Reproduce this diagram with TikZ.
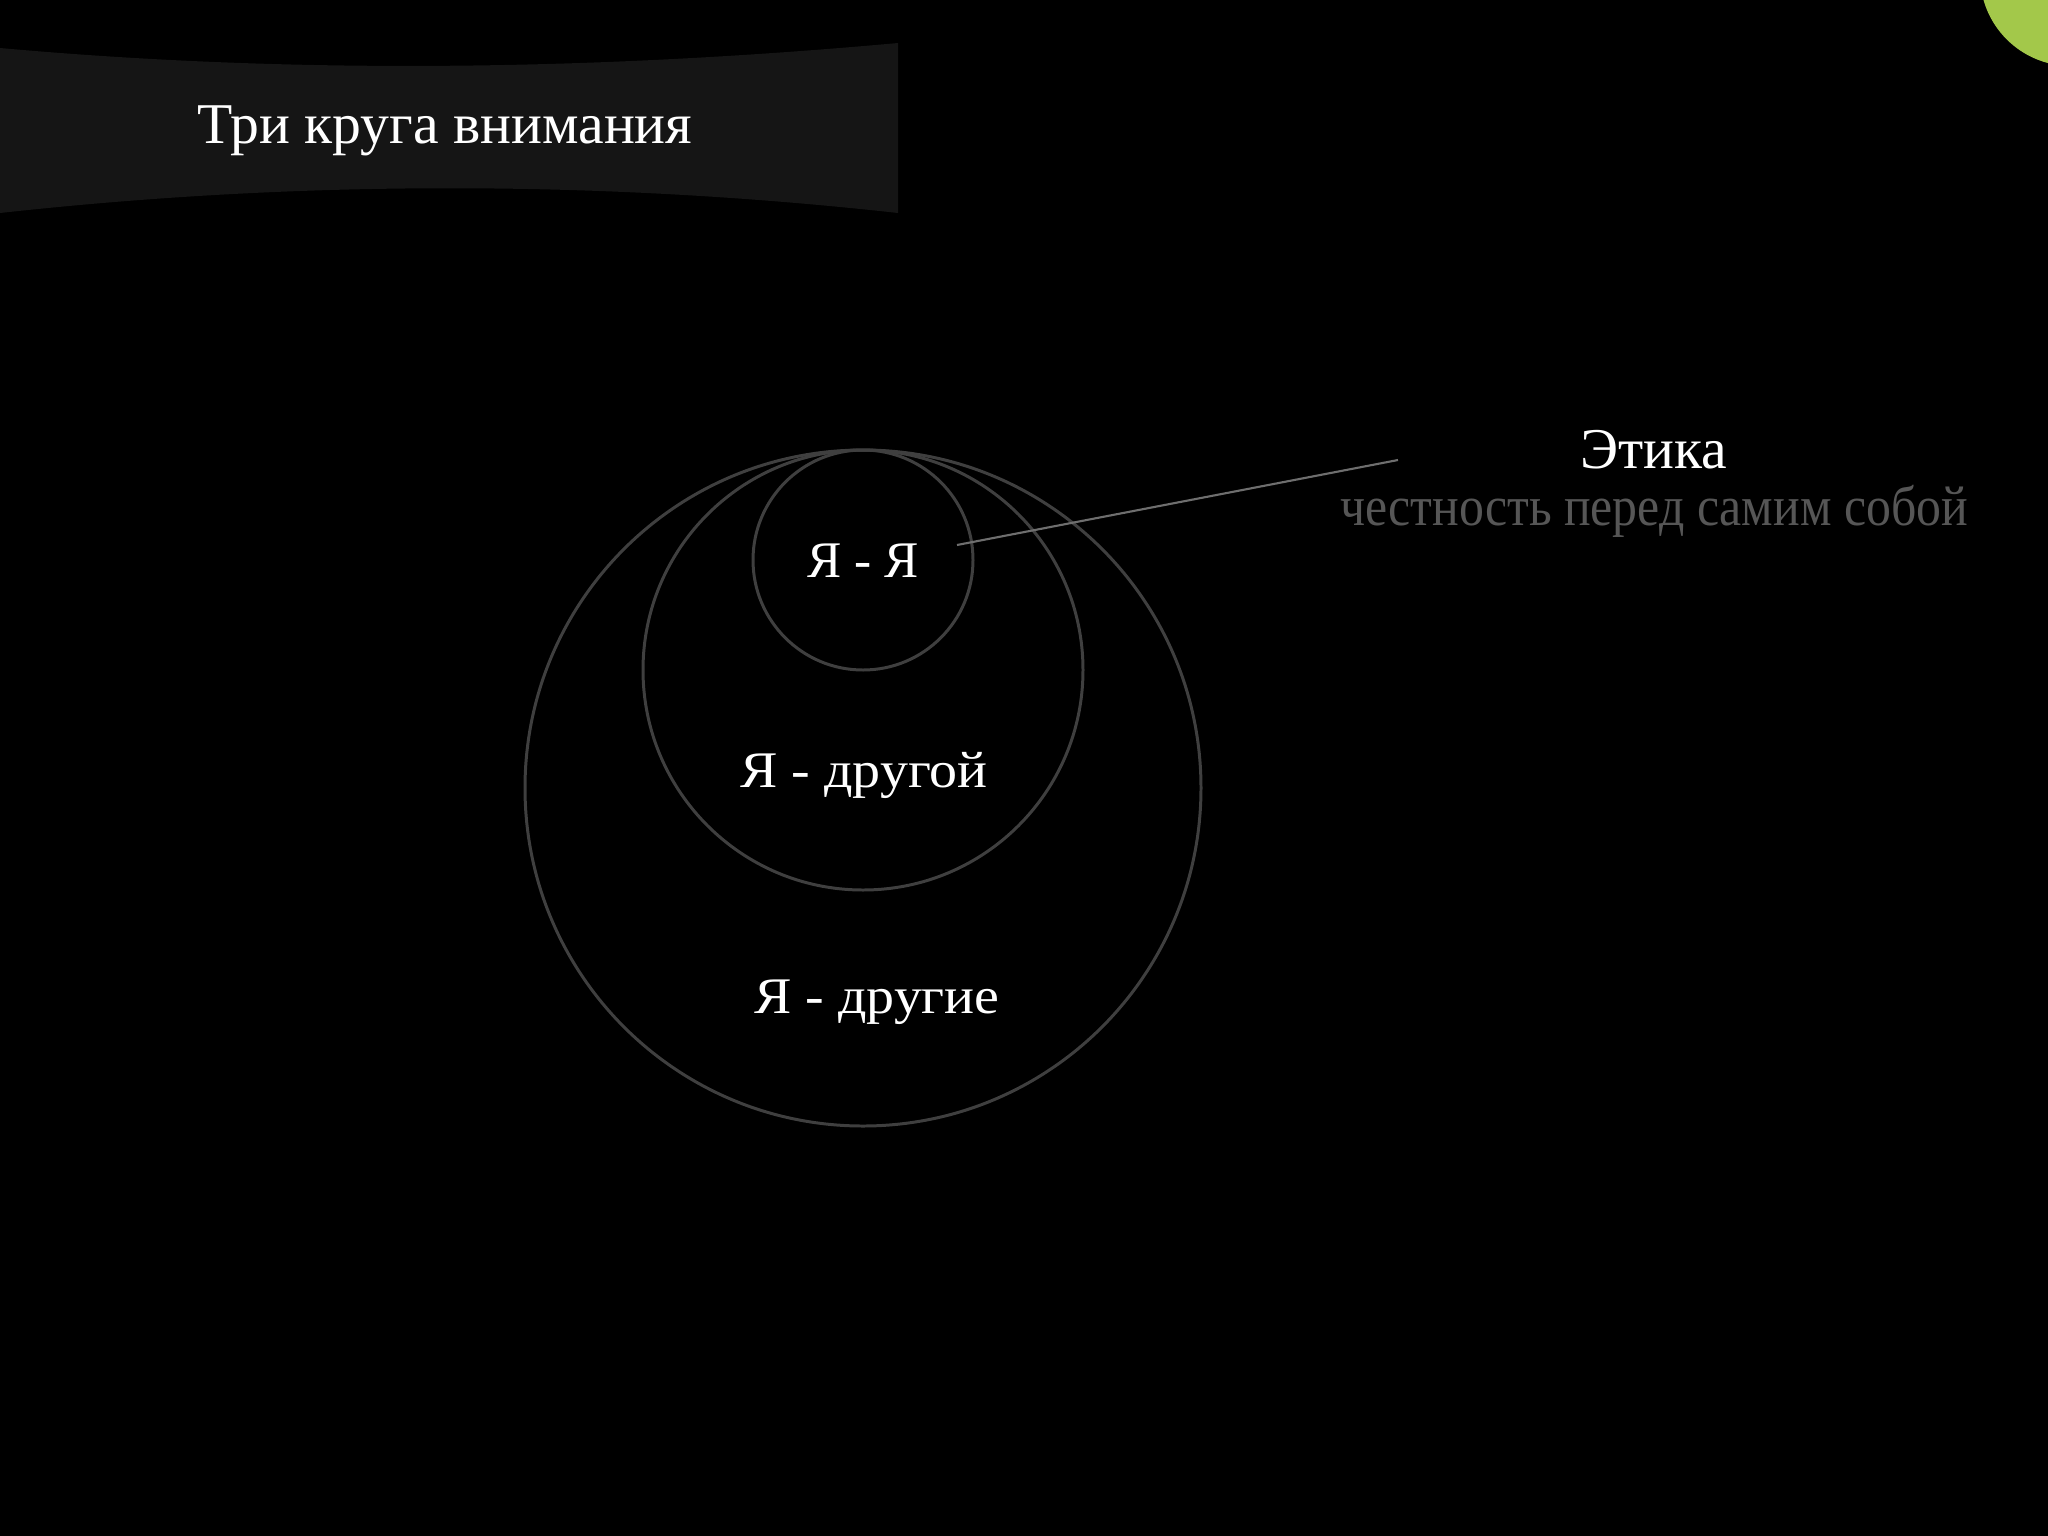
\documentclass[tikz,border=0pt]{standalone}
\usepackage{fontspec}
\setmainfont{Liberation Serif}
\definecolor{banner}{HTML}{151515}
\definecolor{ringgray}{HTML}{3F3F3F}
\definecolor{leadgray}{HTML}{6E6E6E}
\definecolor{subgray}{HTML}{565656}
\definecolor{limegreen}{HTML}{A3C84A}
\tikzset{
  ring/.style={draw=ringgray, line width=0.85pt},
  lbl/.style={text=white, anchor=base, inner sep=0pt, font=\fontsize{14.6}{16}\selectfont},
  ttl/.style={text=white, anchor=base, inner sep=0pt, font=\fontsize{16.4}{18}\selectfont},
  sub/.style={text=subgray, anchor=base, inner sep=0pt, font=\fontsize{16}{18}\selectfont},
  lead/.style={draw=leadgray, line width=0.6pt}
}
\begin{document}
\begin{tikzpicture}[x=0.01cm, y=-0.01cm]
\fill[black] (0,0) rectangle (2048,1536);
\useasboundingbox (0,0) rectangle (2048,1536);
% banner
\fill[banner] (0,48) .. controls (300,75) and (600,70) .. (898,43) -- (898,213)
   .. controls (600,180) and (300,180) .. (0,213) -- cycle;
\node[ttl] (title) at (445,143) {Три круга внимания};
% green corner circle
\begin{scope}
\clip (0,0) rectangle (2048,1536);
\fill[limegreen] (2071,-25) circle[radius=91];
\end{scope}
% circles
\draw[ring] (863,788) circle[radius=338];
\draw[ring] (863,670) circle[radius=220];
\draw[ring] (863,560) circle[radius=110];
\node[lbl] (yaya) at (863,577) {Я - Я};
\node[lbl] (drugoy) at (864,787) {\scalebox{1.09}[1]{Я - другой}};
\node[lbl] (drugie) at (877,1013) {\scalebox{1.09}[1]{Я - другие}};
% callout
\coordinate (leadstart) at (957,545);
\coordinate (leadend) at (1398,460);
\draw[lead] (leadstart) -- (leadend);
\node[ttl] (etika) at (1654,468) {Этика};
\node[sub] (chest) at (1654,525) {\scalebox{0.885}[1]{честность перед самим собой}};
\end{tikzpicture}
\end{document}
